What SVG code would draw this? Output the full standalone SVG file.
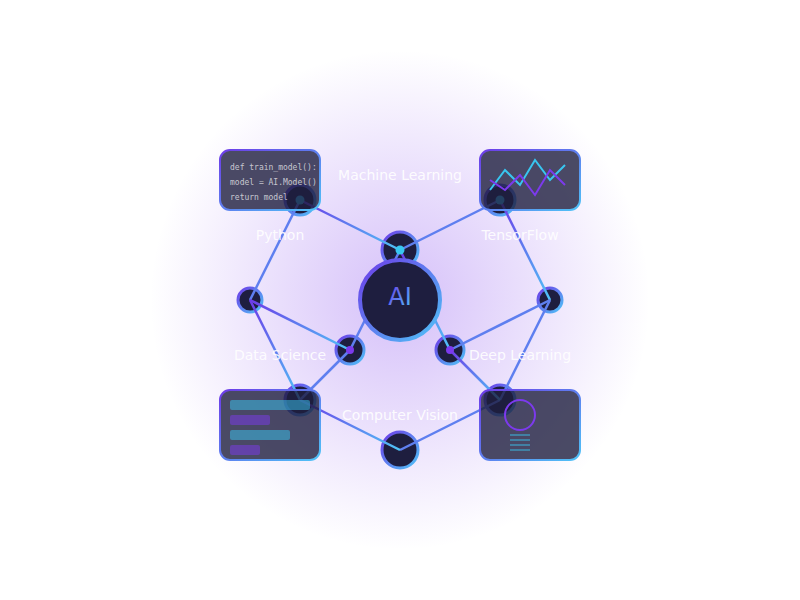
<svg xmlns="http://www.w3.org/2000/svg" width="800" height="600" viewBox="0 0 800 600">
<defs>
<radialGradient id="glow" gradientUnits="userSpaceOnUse" cx="400" cy="300" r="250">
<stop offset="0" stop-color="#7c3aed" stop-opacity="0.32"/>
<stop offset="1" stop-color="#7c3aed" stop-opacity="0"/>
</radialGradient>
<linearGradient id="g" x1="0" y1="0" x2="1" y2="1">
<stop offset="0" stop-color="#6d3be8"/>
<stop offset="1" stop-color="#4fc3f7"/>
</linearGradient>
</defs>
<style>
.l{stroke:url(#g);stroke-width:2.5;fill:none}
.n{fill:#1e1e3f;stroke:url(#g);stroke-width:3}
.c{fill:#1e1e3f;fill-opacity:.8;stroke:url(#g);stroke-width:2}
.t{font-family:"DejaVu Sans",sans-serif;font-size:14px;fill:#fff;text-anchor:middle;fill-opacity:.9}
.m{font-family:"DejaVu Sans Mono",monospace;font-size:8px;fill:#fff;fill-opacity:.7}
</style>
<rect width="800" height="600" fill="#fff"/>
<circle cx="400" cy="300" r="250" fill="url(#glow)"/>
<g id="node-ml"><circle class="n" cx="400" cy="250" r="18"/></g>
<g id="node-py"><circle class="n" cx="300" cy="200" r="15"/></g>
<g id="node-tf"><circle class="n" cx="500" cy="200" r="15"/></g>
<g id="node-l"><circle class="n" cx="250" cy="300" r="12"/></g>
<g id="node-r"><circle class="n" cx="550" cy="300" r="12"/></g>
<g id="node-ds"><circle class="n" cx="350" cy="350" r="14"/></g>
<g id="node-dl"><circle class="n" cx="450" cy="350" r="14"/></g>
<g id="node-bl"><circle class="n" cx="300" cy="400" r="15"/></g>
<g id="node-br"><circle class="n" cx="500" cy="400" r="15"/></g>
<g id="node-cv"><circle class="n" cx="400" cy="450" r="18"/></g>
<g id="connectors">
<path class="l" d="M300 200L400 250"/>
<path class="l" d="M400 250L500 200"/>
<path class="l" d="M500 200L550 300"/>
<path class="l" d="M550 300L500 400"/>
<path class="l" d="M500 400L400 450"/>
<path class="l" d="M400 450L300 400"/>
<path class="l" d="M300 400L250 300"/>
<path class="l" d="M250 300L300 200"/>
<path class="l" d="M250 300L350 350"/>
<path class="l" d="M350 350L300 400"/>
<path class="l" d="M550 300L450 350"/>
<path class="l" d="M450 350L500 400"/>
<path class="l" d="M400 250L350 350"/>
<path class="l" d="M400 250L450 350"/>
</g>
<g id="dots">
<circle cx="400" cy="250" r="4.5" fill="#38c6f0"/>
<circle cx="300" cy="200" r="4.5" fill="#38c6f0"/>
<circle cx="500" cy="200" r="4.5" fill="#38c6f0"/>
<circle cx="350" cy="350" r="4" fill="#7c3aed"/>
<circle cx="450" cy="350" r="4" fill="#7c3aed"/>
</g>
<g id="node-ai"><circle cx="400" cy="300" r="40" fill="#1e1e3f" stroke="url(#g)" stroke-width="4"/>
<text x="400" y="305" style="font-family:'DejaVu Sans',sans-serif;font-size:24px;text-anchor:middle" fill="url(#g)">AI</text></g>
<g id="card-code"><rect class="c" x="220" y="150" width="100" height="60" rx="10"/>
<text class="m" x="230" y="170">def train_model():</text>
<text class="m" x="230" y="185">model = AI.Model()</text>
<text class="m" x="230" y="200">return model</text></g>
<g id="card-chart"><rect class="c" x="480" y="150" width="100" height="60" rx="10"/>
<path d="M490 190L505 170L520 185L535 160L550 180L565 165" fill="none" stroke="#38c6f0" stroke-width="2"/>
<path d="M490 180L505 190L520 175L535 195L550 170L565 185" fill="none" stroke="#7c3aed" stroke-width="2"/></g>
<g id="card-bars"><rect class="c" x="220" y="390" width="100" height="70" rx="10"/>
<rect x="230" y="400" width="80" height="10" rx="2" fill="#38c6f0" fill-opacity=".5"/>
<rect x="230" y="415" width="40" height="10" rx="2" fill="#7c3aed" fill-opacity=".5"/>
<rect x="230" y="430" width="60" height="10" rx="2" fill="#38c6f0" fill-opacity=".5"/>
<rect x="230" y="445" width="30" height="10" rx="2" fill="#7c3aed" fill-opacity=".5"/></g>
<g id="card-doc"><rect class="c" x="480" y="390" width="100" height="70" rx="10"/>
<circle cx="520" cy="415" r="15" fill="none" stroke="#7c3aed" stroke-width="2"/>
<path d="M510 435H530M510 440H530M510 445H530M510 450H530" stroke="#38c6f0" stroke-opacity=".6" stroke-width="1.5"/></g>
<g id="labels">
<text class="t" x="400" y="180">Machine Learning</text>
<text class="t" x="280" y="240">Python</text>
<text class="t" x="520" y="240">TensorFlow</text>
<text class="t" x="280" y="360">Data Science</text>
<text class="t" x="520" y="360">Deep Learning</text>
<text class="t" x="400" y="420">Computer Vision</text>
</g>
</svg>
